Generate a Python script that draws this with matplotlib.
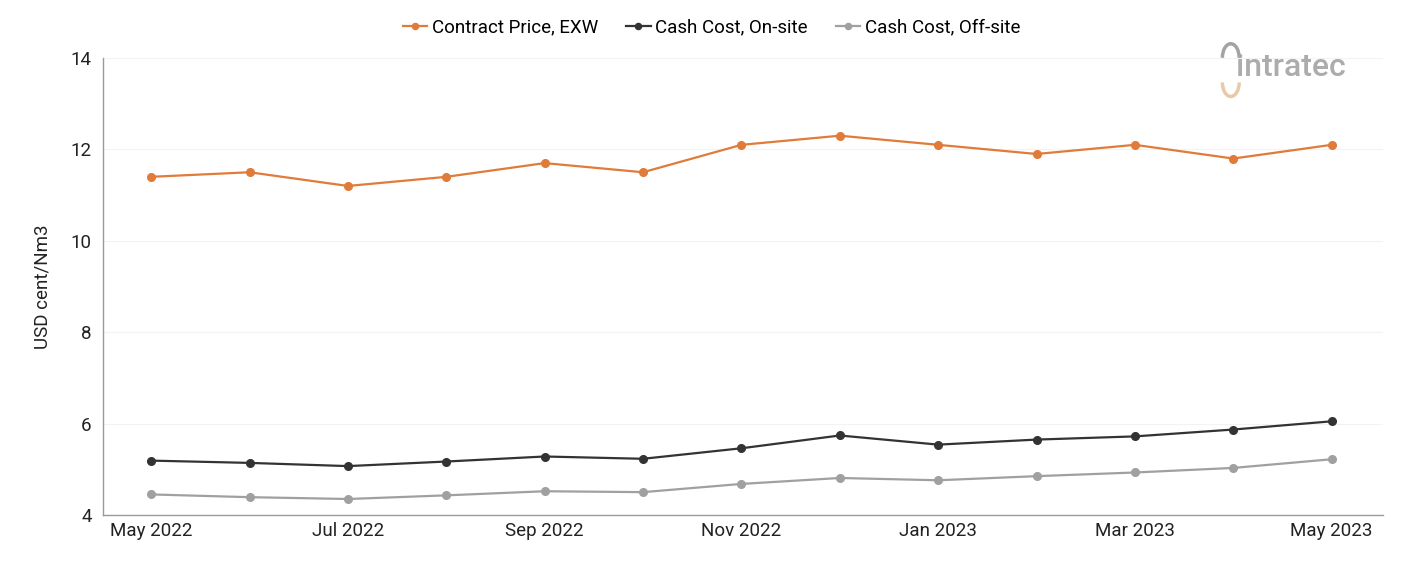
import matplotlib
matplotlib.use("Agg")
import matplotlib.pyplot as plt
from matplotlib.patches import Arc

plt.rcParams['font.family'] = ['Roboto', 'DejaVu Sans']

# monthly data, May 2022 .. May 2023
months = ["May 2022", "Jun 2022", "Jul 2022", "Aug 2022", "Sep 2022", "Oct 2022", "Nov 2022",
          "Dec 2022", "Jan 2023", "Feb 2023", "Mar 2023", "Apr 2023", "May 2023"]
contract_price = [11.4, 11.5, 11.2, 11.4, 11.7, 11.5, 12.1, 12.3, 12.1, 11.9, 12.1, 11.8, 12.1]
cash_onsite = [5.19, 5.14, 5.07, 5.17, 5.28, 5.23, 5.46, 5.74, 5.54, 5.65, 5.72, 5.87, 6.05]
cash_offsite = [4.45, 4.39, 4.35, 4.43, 4.52, 4.50, 4.68, 4.81, 4.76, 4.85, 4.93, 5.03, 5.22]

series = [("Contract Price, EXW", contract_price, "#E07B39"),
          ("Cash Cost, On-site", cash_onsite, "#333333"),
          ("Cash Cost, Off-site", cash_offsite, "#A0A0A0")]

fig = plt.figure(figsize=(14.01, 5.61), dpi=100)
ax = fig.add_axes([0.0735, 0.082, 0.9135, 0.8146])

x = list(range(len(months)))
for name, vals, col in series:
    ax.plot(x, vals, color=col, lw=1.6, marker="o", ms=5.5, label=name)

ax.set_ylim(4, 14)
ax.set_yticks([4, 6, 8, 10, 12, 14])
ax.set_xlim(-0.49, 12.52)
ax.set_xticks(x[::2])
ax.set_xticklabels(months[::2])
ax.tick_params(axis="both", length=0, labelsize=13.5, colors="#222222")
ax.tick_params(axis="x", pad=5)
ax.tick_params(axis="y", pad=8)
ax.grid(axis="y", color="#f3f3f3", lw=0.8)
ax.set_axisbelow(True)
for s in ["top", "right"]:
    ax.spines[s].set_visible(False)
for s in ["left", "bottom"]:
    ax.spines[s].set_color("#999999")
    ax.spines[s].set_linewidth(1)
ax.set_ylabel("USD cent/Nm3", fontsize=13.5, color="#222222", labelpad=14)

fig.legend(loc="center", bbox_to_anchor=(0.508, 0.951), ncol=3, frameon=False,
           fontsize=13.5, handlelength=1.3, columnspacing=1.5, handletextpad=0.25,
           markerscale=0.8)

# logo
fig.text(0.8825, 0.88, "intratec", fontsize=23, color="#a3a3a3", fontweight="medium",
         ha="left", va="center", alpha=0.9)
fig.patches.append(Arc((0.8785, 0.897), 0.012, 0.05, theta1=0, theta2=180,
                       transform=fig.transFigure, color="#a3a3a3", lw=2.5))
fig.patches.append(Arc((0.8785, 0.853), 0.012, 0.05, theta1=180, theta2=360,
                       transform=fig.transFigure, color="#e8c9a8", lw=2.5))

fig.savefig("out.png", dpi=100)
